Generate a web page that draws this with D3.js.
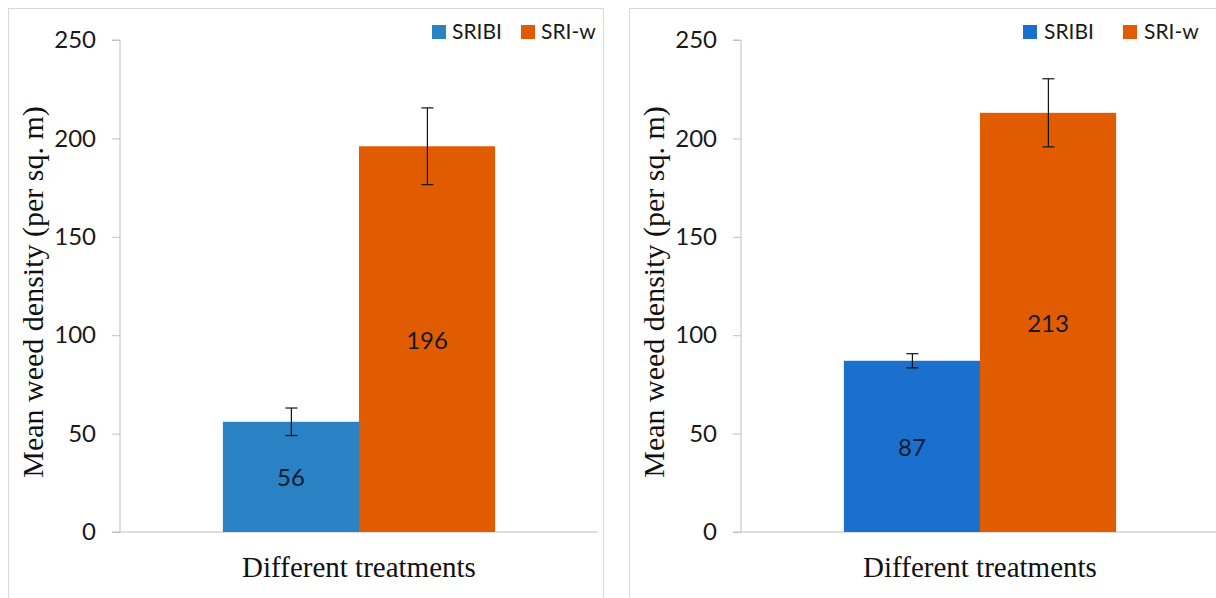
<!DOCTYPE html>
<html>
<head>
<meta charset="utf-8">
<script src="https://cdn.jsdelivr.net/npm/d3@7/dist/d3.min.js"></script>
<style>
  html, body { margin: 0; padding: 0; background: #fff; }
  svg { display: block; }
</style>
</head>
<body>
<svg id="chart" width="1216" height="598"></svg>
<script>
// ---- data ----
const category = ["Different treatments"];
const series = ["SRIBI", "SRI-w"];
const panel1Values = [56, 196];
const panel1Errors = [7, 19.5];
const panel2Values = [87, 213];
const panel2Errors = [3.6, 17.3];
const yTicks = [0, 50, 100, 150, 200, 250];
const yTitle = "Mean weed density (per sq. m)";
const xTitle = "Different treatments";

const svg = d3.select("#chart");

const panels = [
  { ox: 0, values: panel1Values, errors: panel1Errors,
    colors: ["#2a81c3", "#e15c00"],
    legend: [{ sq: 432, tx: 452 }, { sq: 521, tx: 541 }] },
  { ox: 621, values: panel2Values, errors: panel2Errors,
    colors: ["#1c70cd", "#e15c00"],
    legend: [{ sq: 1023 - 621, tx: 1044 - 621 }, { sq: 1123 - 621, tx: 1144 - 621 }] }
];

const plotL = 120, plotR = 598, plotT = 40, plotB = 532;
const sans = "Lato, 'Open Sans', sans-serif";
const serif = "'Liberation Serif', 'Times New Roman', serif";

panels.forEach(p => {
  const g = svg.append("g").attr("transform", `translate(${p.ox},0)`);

  // frame
  g.append("rect")
    .attr("x", 8.5).attr("y", 8.5)
    .attr("width", 595).attr("height", 620)
    .attr("fill", "none").attr("stroke", "#d9d9d9").attr("stroke-width", 1);

  const y = d3.scaleLinear().domain([0, 250]).range([plotB, plotT]);
  const x0 = d3.scaleBand().domain(category).range([plotL, plotR])
    .paddingInner(0).paddingOuter(0.378);
  const x1 = d3.scaleBand().domain(series).range([0, x0.bandwidth()]).padding(0);

  // y axis
  const yAxis = d3.axisLeft(y).tickValues(yTicks).tickSize(8).tickPadding(16);
  const ya = g.append("g").attr("transform", `translate(${plotL},0)`).call(yAxis);
  ya.select(".domain").attr("stroke", "#bfbfbf").attr("d", `M-8,${plotT}H0V${plotB}`);
  ya.selectAll(".tick line").attr("stroke", "#bfbfbf");
  ya.selectAll(".tick text")
    .attr("font-family", sans).attr("font-size", 24).attr("fill", "#1a1a1a");

  // x axis
  const xAxis = d3.axisBottom(x0).tickSize(0).tickFormat("");
  const xa = g.append("g").attr("transform", `translate(0,${plotB})`).call(xAxis);
  xa.select(".domain").attr("stroke", "#bfbfbf").attr("d", `M${plotL - 8},0H${plotR}`);

  // bars
  const bg = g.append("g").attr("transform", `translate(${x0(category[0])},0)`);
  series.forEach((s, i) => {
    const v = p.values[i];
    const bx = x1(s), bw = x1.bandwidth();
    bg.append("rect")
      .attr("x", bx).attr("y", y(v))
      .attr("width", bw).attr("height", y(0) - y(v))
      .attr("fill", p.colors[i]);
    bg.append("text")
      .attr("x", bx + bw / 2).attr("y", (y(v) + y(0)) / 2)
      .attr("text-anchor", "middle").attr("dominant-baseline", "central")
      .attr("font-family", sans).attr("font-size", 24).attr("fill", "#101a30")
      .text(v);
    // error bar
    const e = p.errors[i];
    const cx = Math.round(bx + bw / 2) + 0.5;
    const eg = bg.append("g").attr("stroke", "#111").attr("stroke-width", 1.2);
    eg.append("line").attr("x1", cx).attr("x2", cx).attr("y1", y(v + e)).attr("y2", y(v - e));
    eg.append("line").attr("x1", cx - 6).attr("x2", cx + 6).attr("y1", y(v + e)).attr("y2", y(v + e));
    eg.append("line").attr("x1", cx - 6).attr("x2", cx + 6).attr("y1", y(v - e)).attr("y2", y(v - e));
  });

  // titles
  g.append("text")
    .attr("transform", `translate(43,292) rotate(-90)`)
    .attr("text-anchor", "middle")
    .attr("font-family", serif).attr("font-size", 30).attr("fill", "#111")
    .text(yTitle);
  g.append("text")
    .attr("x", (plotL + plotR) / 2).attr("y", 577)
    .attr("text-anchor", "middle")
    .attr("font-family", serif).attr("font-size", 29).attr("fill", "#111")
    .text(xTitle);

  // legend
  series.forEach((s, i) => {
    const L = p.legend[i];
    g.append("rect").attr("x", L.sq).attr("y", 25).attr("width", 14).attr("height", 14)
      .attr("fill", p.colors[i]);
    g.append("text").attr("x", L.tx).attr("y", 39)
      .attr("font-family", sans).attr("font-size", 21).attr("fill", "#1a1a1a")
      .text(s);
  });
});
</script>
</body>
</html>
